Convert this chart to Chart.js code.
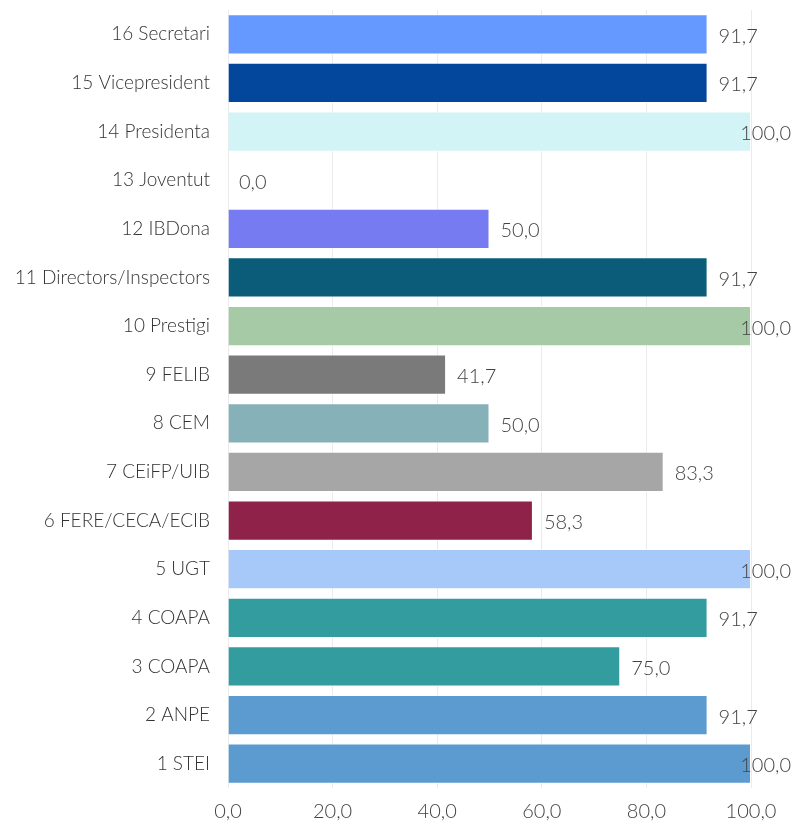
<!DOCTYPE html>
<html><head><meta charset="utf-8">
<script src="https://cdn.jsdelivr.net/npm/chart.js@4"></script>
<style>html,body{margin:0;padding:0;background:#fff}#w{width:793px;height:824px}</style>
</head><body><div id="w"><canvas id="c" width="793" height="824"></canvas></div>
<script>
const categories = ["16 Secretari","15 Vicepresident","14 Presidenta","13 Joventut","12 IBDona","11 Directors/Inspectors","10 Prestigi","9 FELIB","8 CEM","7 CEiFP/UIB","6 FERE/CECA/ECIB","5 UGT","4 COAPA","3 COAPA","2 ANPE","1 STEI"];
const values = [91.7,91.7,100,0,50,91.7,100,41.7,50,83.3,58.3,100,91.7,75,91.7,100];
const barColors = ["#6699FF","#03479C","#D3F4F6","#D3F4F6","#777BF2","#0B5C78","#A5CAA5","#7A7A7A","#87B1B9","#A6A6A6","#8E2248","#A6C9FA","#339C9F","#339C9F","#5B9BD0","#5B9BD0"];
const xTicks = [0,20,40,60,80,100];

const fmt = v => v.toFixed(1).replace('.', ',');
const labelPlugin = {
  id: 'vlabels',
  afterDatasetsDraw(chart) {
    const ctx = chart.ctx;
    const meta = chart.getDatasetMeta(0);
    ctx.save();
    ctx.font = '300 20px Lato';
    ctx.fillStyle = '#444';
    ctx.textBaseline = 'middle';
    meta.data.forEach((bar, i) => {
      const t = fmt(values[i]);
      const w = ctx.measureText(t).width;
      let x = bar.x + 11;
      if (x + w > chart.width - 2) x = chart.width - 2 - w;
      ctx.fillText(t, x, bar.y + 2);
    });
    ctx.restore();
  }
};
new Chart(document.getElementById('c'), {
  type: 'bar',
  data: { labels: categories, datasets: [{ data: values, backgroundColor: barColors, borderColor: 'rgba(255,255,255,0.6)', borderWidth: 1, categoryPercentage: 1, barPercentage: 0.83 }] },
  options: {
    indexAxis: 'y', responsive: false, animation: false, maintainAspectRatio: false,
    layout: { padding: { top: 10, right: 42, bottom: 2, left: 0 } },
    plugins: { legend: { display: false }, tooltip: { enabled: false } },
    scales: {
      x: { min: 0, max: 100, afterBuildTicks: s => { s.ticks = xTicks.map(v => ({ value: v })); },
        afterFit: s => { s.height = s.height - 14; },
        ticks: { callback: v => fmt(v), color: '#444', font: { family: 'Lato', size: 20, weight: 300 }, padding: 12 },
        grid: { color: '#ebebeb', drawTicks: false }, border: { display: false } },
      y: { afterFit: s => { s.width = 228; s.paddingTop = 0; s.paddingBottom = 0; },
        ticks: { color: '#333', font: { family: 'Lato', size: 19, weight: 300 }, padding: 10 },
        grid: { display: false }, border: { display: false } }
    }
  },
  plugins: [labelPlugin]
});
</script></body></html>
